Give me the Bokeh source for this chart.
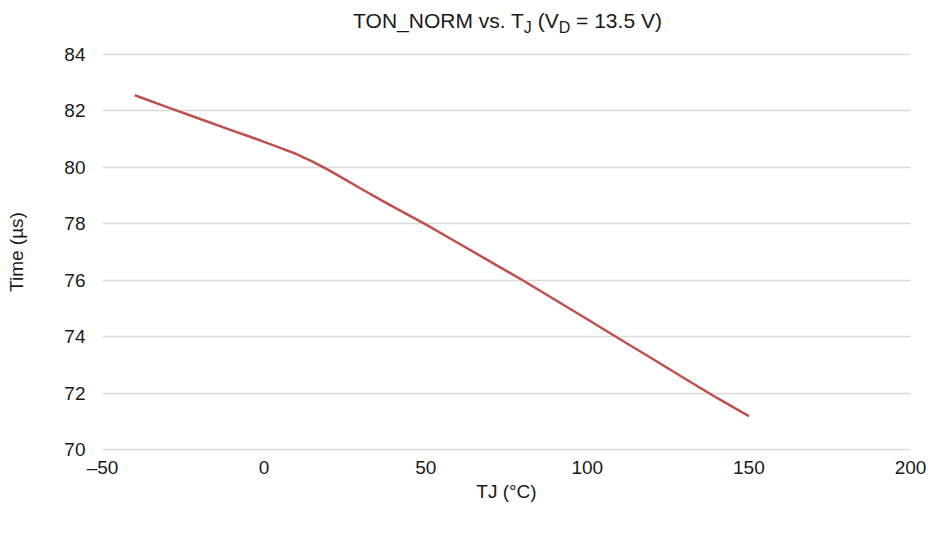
from bokeh.plotting import figure
from bokeh.models import Range1d, FixedTicker, Div
from bokeh.layouts import column
from bokeh.embed import file_html
from bokeh.resources import INLINE

# Data
tj = [-40, -30, -20, -10, -5, 0, 5, 10, 15, 20, 25, 30, 35, 40, 45, 50,
      60, 70, 80, 90, 100, 110, 120, 130, 140, 150]
ton = [82.55, 82.13, 81.72, 81.31, 81.11, 80.90, 80.69, 80.47, 80.20, 79.90, 79.57, 79.24,
       78.92, 78.60, 78.29, 77.98,
       77.32, 76.66, 76.00, 75.31, 74.62, 73.92, 73.23, 72.53, 71.84, 71.19]

x_ticks = [-50, 0, 50, 100, 150, 200]
y_ticks = [70, 72, 74, 76, 78, 80, 82, 84]

title_main = "TON_NORM vs. T"
title_sub1 = "J"
title_mid = " (V"
title_sub2 = "D"
title_end = " = 13.5 V)"

FONT = "Liberation Sans"
TXT = "#1a1a1a"
DIV_H = 35
FIG_H = 490

sub_style = "font-size:16px;vertical-align:-5px;line-height:0"
title_html = (
    f'<div style="width:937px;box-sizing:border-box;padding-left:68px;padding-top:5px;'
    f'text-align:center;font-family:{FONT};font-size:21px;line-height:22px;color:{TXT};white-space:nowrap">'
    f'{title_main}<span style="{sub_style}">{title_sub1}</span>{title_mid}'
    f'<span style="{sub_style}">{title_sub2}</span>{title_end}</div>'
)
div = Div(text=title_html, width=937, height=DIV_H)

p = figure(width=937, height=FIG_H, output_backend="svg", toolbar_location=None,
           x_range=Range1d(-50, 200), y_range=Range1d(69.97, 84.03),
           min_border_left=102, min_border_right=27, min_border_top=8,
           min_border_bottom=85)
p.outline_line_color = None
p.background_fill_color = "white"
p.border_fill_color = "white"

p.line(tj, ton, line_color="#c0504d", line_width=2.5, line_join="round")

p.xgrid.grid_line_color = None
p.ygrid.grid_line_color = "#d9d9d9"
p.ygrid.grid_line_width = 1.5

p.xaxis.ticker = FixedTicker(ticks=x_ticks)
p.yaxis.ticker = FixedTicker(ticks=y_ticks)
p.xaxis.major_label_overrides = {-50: "\u201350"}

for ax in (p.xaxis[0], p.yaxis[0]):
    ax.axis_line_color = None
    ax.major_tick_line_color = None
    ax.minor_tick_line_color = None
    ax.major_label_text_font = FONT
    ax.major_label_text_font_size = "19px"
    ax.major_label_text_color = TXT
    ax.axis_label_text_font = FONT
    ax.axis_label_text_font_size = "19px"
    ax.axis_label_text_font_style = "normal"
    ax.axis_label_text_color = TXT

p.xaxis.axis_label = "TJ (\u00b0C)"
p.yaxis.axis_label = "Time (\u00b5s)"
p.xaxis.major_label_standoff = 0
p.xaxis.axis_label_standoff = 0
p.yaxis.major_label_standoff = 11
p.yaxis.axis_label_standoff = 34

open("out.html", "w").write(file_html(column(div, p, spacing=0), INLINE))
